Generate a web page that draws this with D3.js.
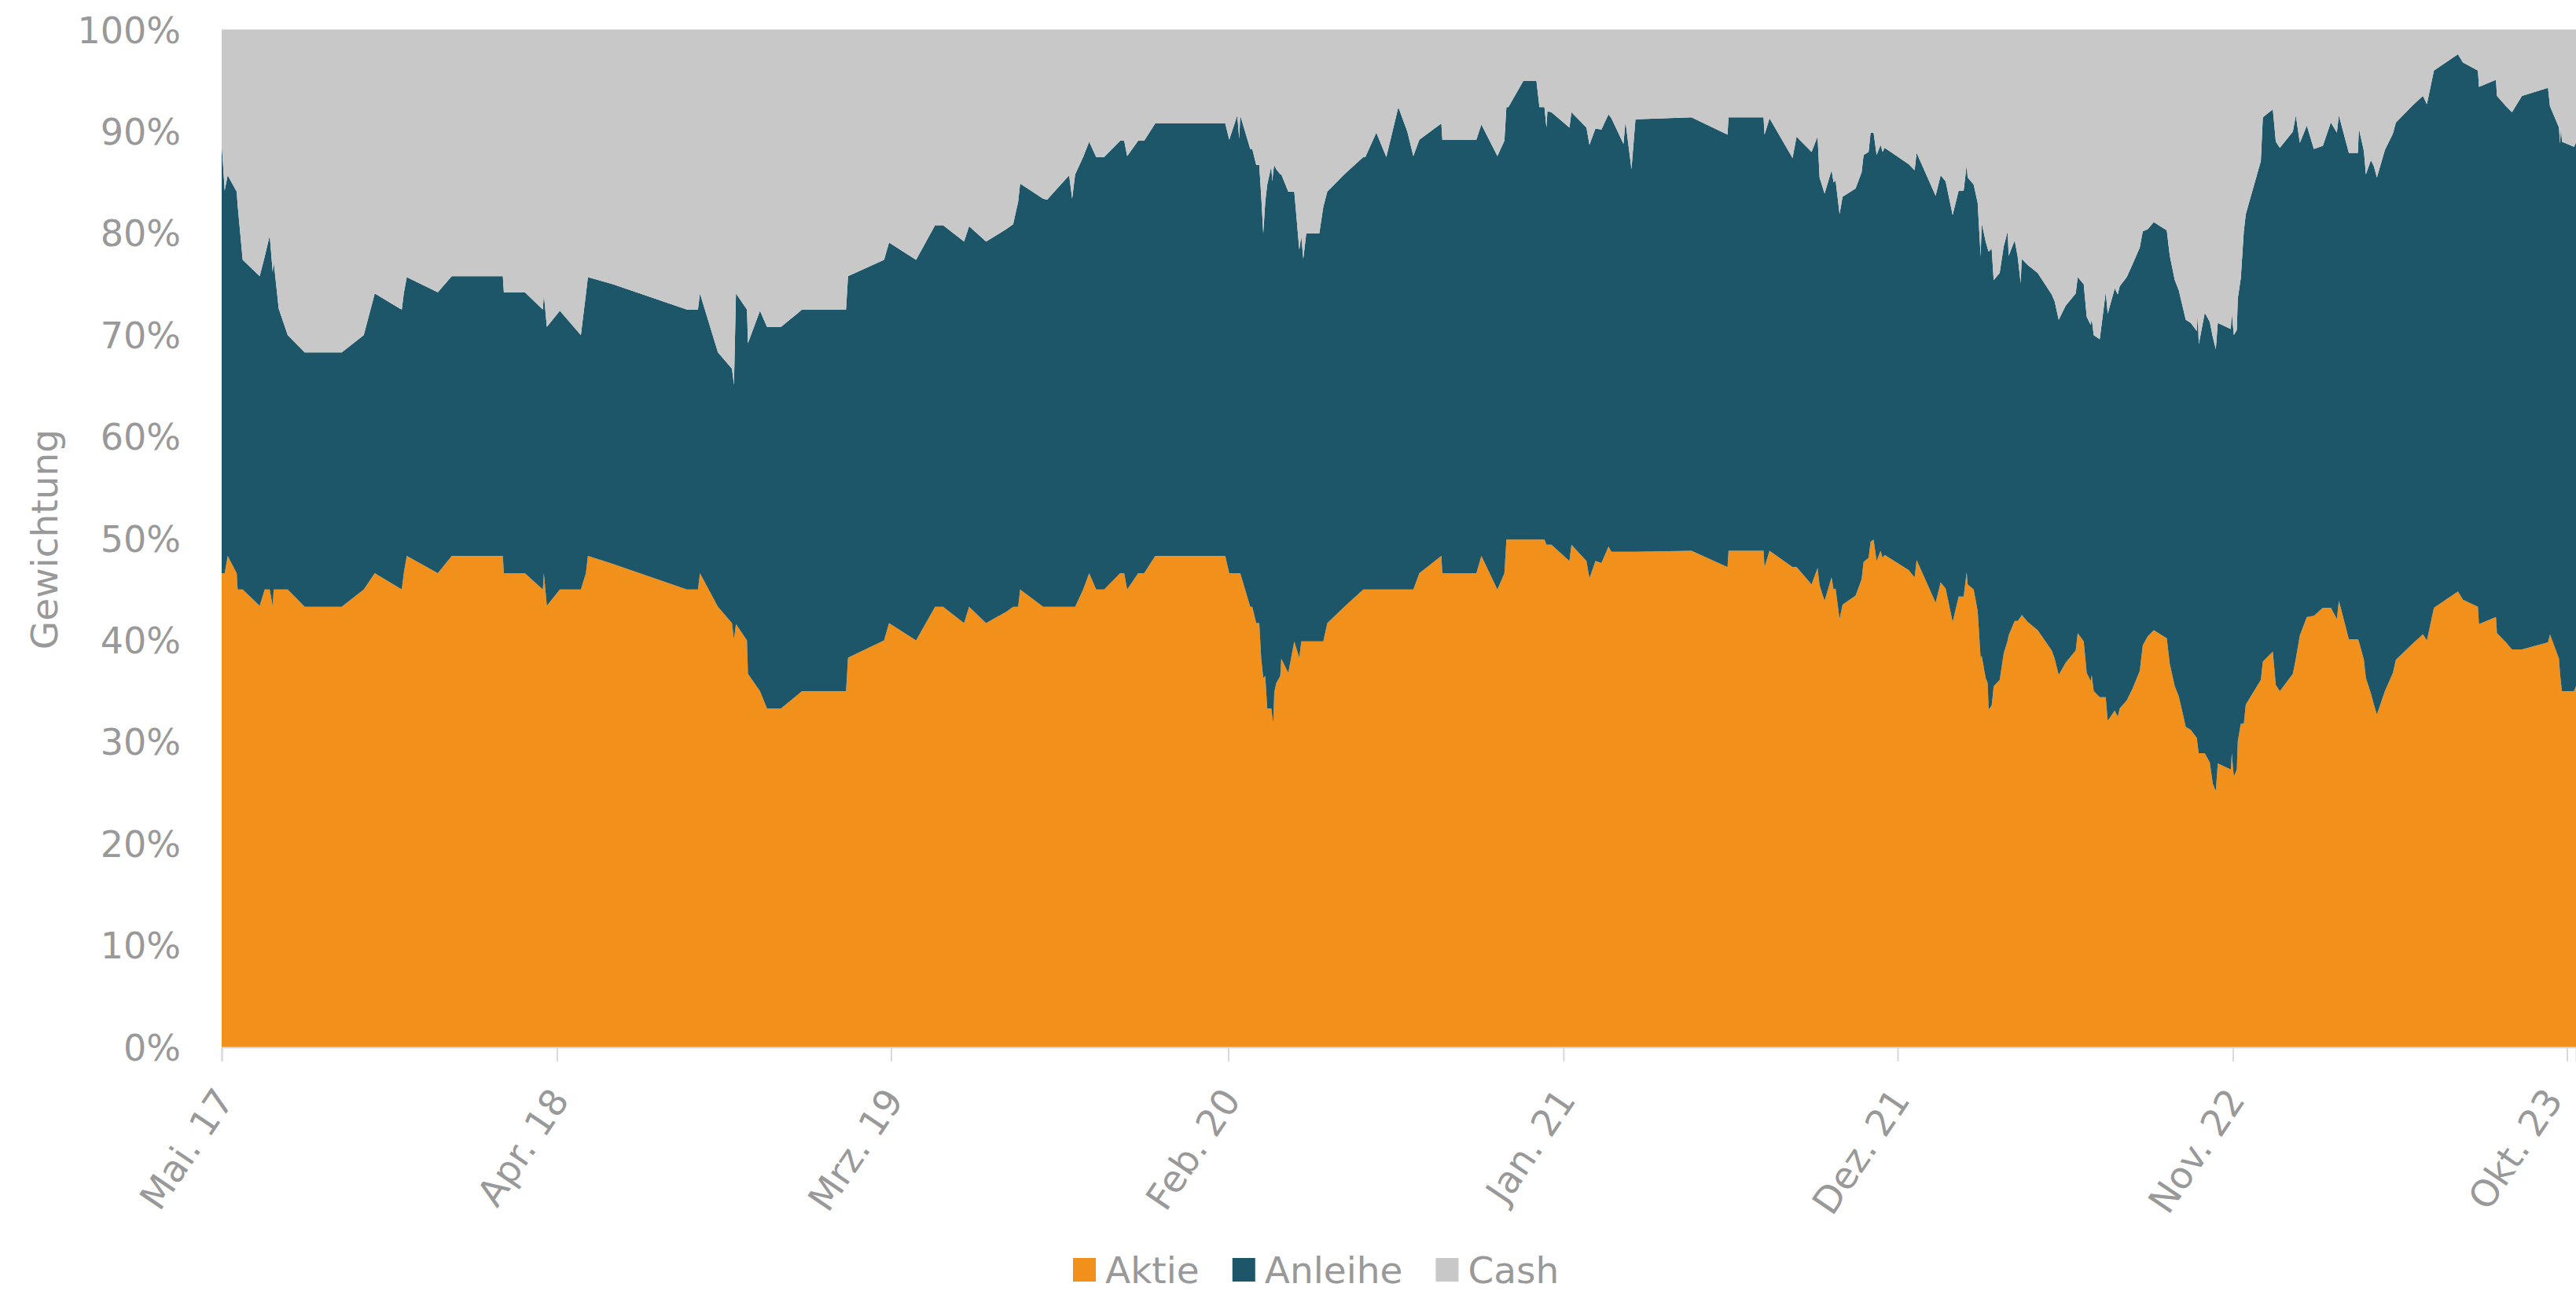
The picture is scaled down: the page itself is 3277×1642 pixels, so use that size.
<!DOCTYPE html>
<html>
<head>
<meta charset="utf-8">
<script src="https://cdn.jsdelivr.net/npm/d3@7"></script>
<style>
  html, body { margin: 0; padding: 0; background: #fff; }
  svg { display: block; }
</style>
</head>
<body>
<div id="chart"></div>
<script>
// allocation per date, in percent
const dates = [
  "2017-05-01","2017-05-04","2017-05-07","2017-05-16","2017-05-17","2017-05-22","2017-06-08","2017-06-13","2017-06-18","2017-06-21","2017-06-22","2017-06-27","2017-07-06","2017-07-23","2017-08-29","2017-09-20","2017-10-01","2017-10-28","2017-10-30","2017-11-02","2017-12-03","2017-12-17","2018-02-06","2018-02-07","2018-02-28","2018-03-18","2018-03-19","2018-03-22","2018-04-04","2018-04-25","2018-04-30","2018-05-02",
  "2018-05-27","2018-08-09","2018-08-20","2018-08-22","2018-09-09","2018-09-23","2018-09-25","2018-09-27","2018-10-08","2018-10-09","2018-10-21","2018-10-28","2018-11-11","2018-12-02","2019-01-15","2019-01-17","2019-02-22","2019-02-27","2019-03-26","2019-04-14","2019-04-22","2019-05-13","2019-05-18","2019-06-04",
  "2019-06-24","2019-07-01","2019-07-06","2019-07-08","2019-07-31","2019-08-04","2019-08-26","2019-08-29","2019-09-01","2019-09-09","2019-09-15","2019-09-22","2019-09-30","2019-10-16","2019-10-20","2019-10-23","2019-11-03","2019-11-09","2019-11-20","2020-01-29","2020-02-02","2020-02-10","2020-02-12","2020-02-13","2020-02-23","2020-02-25","2020-02-29","2020-03-03","2020-03-05","2020-03-07","2020-03-09","2020-03-11","2020-03-15","2020-03-16","2020-03-17","2020-03-18","2020-03-20","2020-03-24","2020-03-25","2020-04-01","2020-04-07","2020-04-12","2020-04-14","2020-04-16","2020-04-19","2020-05-02","2020-05-06","2020-05-10","2020-05-27","2020-06-15","2020-06-17","2020-06-28","2020-07-08","2020-07-20",
  "2020-07-29","2020-08-04","2020-08-10","2020-09-01","2020-09-02","2020-10-06","2020-10-11","2020-10-27","2020-11-03","2020-11-05","2020-11-07","2020-11-22","2020-12-05","2020-12-08","2020-12-13","2020-12-15","2020-12-16","2020-12-20","2021-01-07","2021-01-09","2021-01-24","2021-01-27","2021-02-02","2021-02-08","2021-02-15","2021-02-18","2021-03-02","2021-03-04","2021-03-10","2021-03-14","2021-05-09","2021-06-14","2021-06-15","2021-07-20","2021-07-21","2021-07-26",
  "2021-08-18","2021-08-22","2021-09-06","2021-09-12","2021-09-14","2021-09-19","2021-09-26","2021-09-28","2021-09-30","2021-10-04","2021-10-07","2021-10-20","2021-10-26","2021-10-28","2021-11-02","2021-11-04","2021-11-07","2021-11-10","2021-11-14","2021-11-16","2021-11-18","2021-12-12","2021-12-18","2021-12-20","2022-01-08","2022-01-13","2022-01-18","2022-01-25","2022-01-31","2022-02-05","2022-02-08","2022-02-09","2022-02-15","2022-02-19","2022-02-22","2022-02-23","2022-02-27","2022-03-01","2022-03-02","2022-03-05","2022-03-07","2022-03-13","2022-03-17","2022-03-21","2022-03-22","2022-03-28","2022-03-31","2022-04-03","2022-04-04","2022-04-10","2022-04-20","2022-05-04","2022-05-07","2022-05-11","2022-05-18","2022-05-28","2022-05-30","2022-06-05","2022-06-08","2022-06-12","2022-06-13","2022-06-15","2022-06-21","2022-06-27","2022-06-29","2022-07-06","2022-07-09","2022-07-11","2022-07-18","2022-07-24","2022-07-31","2022-08-03","2022-08-08","2022-08-14","2022-08-27","2022-08-30","2022-09-04","2022-09-08",
  "2022-09-15","2022-09-20","2022-09-26","2022-09-27","2022-09-28","2022-10-04","2022-10-09","2022-10-12","2022-10-15","2022-10-17","2022-10-30","2022-10-31","2022-11-02","2022-11-05","2022-11-06","2022-11-09","2022-11-12","2022-11-14","2022-11-29","2022-12-01","2022-12-11","2022-12-14","2022-12-18","2022-12-31","2023-01-03","2023-01-07","2023-01-14","2023-01-21","2023-01-30","2023-02-07","2023-02-13","2023-02-15","2023-02-25","2023-03-06","2023-03-07","2023-03-12","2023-03-14","2023-03-19","2023-03-22","2023-03-25","2023-04-02","2023-04-10","2023-04-13","2023-04-30","2023-05-10","2023-05-14","2023-05-21","2023-06-14","2023-06-19","2023-07-04","2023-07-05","2023-07-22","2023-07-23","2023-08-01","2023-08-07","2023-08-17","2023-09-12","2023-09-14","2023-09-23","2023-09-24","2023-09-25","2023-09-26","2023-10-08","2023-10-10"
];

const aktie = [
  46.6,46.6,48.3,46.6,45.0,45.0,43.4,45.0,45.0,43.4,45.0,45.0,45.0,43.3,43.3,45.0,46.6,45.0,46.6,48.3,46.6,48.3,48.3,46.6,46.6,45.0,46.6,43.4,45.0,45.0,46.6,48.3,
  47.5,45.0,45.0,46.6,43.3,41.7,40.1,41.6,40.0,36.7,35.0,33.3,33.3,35.0,35.0,38.3,40.0,41.7,40.0,43.3,43.3,41.7,43.3,41.7,
  42.8,43.3,43.3,45.0,43.3,43.3,43.3,43.3,43.3,45.0,46.6,45.0,45.0,46.6,46.6,45.0,46.6,46.6,48.3,48.3,46.6,46.6,46.6,46.6,43.3,43.3,41.7,41.7,38.2,36.3,36.5,33.3,33.3,32.6,31.8,34.9,35.8,36.5,38.2,36.8,39.9,38.3,39.9,39.9,39.9,39.9,39.9,41.7,43.3,45.0,45.0,45.0,45.0,45.0,
  45.0,45.0,46.6,48.3,46.6,46.6,48.3,45.0,46.6,49.9,49.9,49.9,49.9,49.9,49.9,49.4,49.4,49.4,47.8,49.4,47.8,46.1,47.8,47.6,49.2,48.7,48.7,48.7,48.7,48.7,48.8,47.2,48.8,48.8,47.2,48.8,
  47.2,47.2,45.5,47.1,45.4,43.9,46.2,45.0,45.1,42.1,43.5,44.4,46.0,47.7,48.1,49.7,49.9,47.8,48.8,48.1,48.4,46.9,46.2,47.9,43.7,45.7,45.1,41.8,44.3,44.3,46.7,45.5,45.0,42.9,38.2,38.5,36.3,35.8,33.2,33.6,35.5,36.1,38.7,40.0,40.5,41.9,41.9,42.3,42.5,41.8,41.0,39.0,38.2,36.6,37.8,39.0,40.7,39.9,36.8,36.0,36.6,35.0,34.4,34.4,32.1,33.1,32.5,33.3,34.1,35.3,37.0,39.5,40.4,41.0,40.2,37.7,35.5,34.5,
  31.5,31.2,30.4,29.6,28.9,28.9,28.0,25.9,25.2,27.9,27.3,28.9,26.6,27.3,30.1,31.8,31.8,33.7,36.1,37.9,38.9,35.6,35.0,36.7,38.2,40.5,42.3,42.4,43.2,43.2,42.1,43.9,40.1,40.1,39.9,38.1,36.3,34.8,33.7,32.7,35.0,36.8,38.1,39.7,40.6,40.0,43.2,44.8,44.0,43.3,41.6,42.3,40.7,39.8,39.1,39.1,39.8,40.6,38.2,36.8,35.8,35.0,35.0,35.5
];

const anleihe = [
  42.2,37.6,37.4,37.5,37.7,32.4,32.4,32.7,34.8,32.8,32.2,27.6,25.0,25.0,25.0,25.0,27.5,27.5,27.5,27.4,27.6,27.5,27.5,27.6,27.6,27.5,27.4,27.4,27.4,25.0,27.4,27.4,
  27.5,27.5,27.5,27.5,25.0,25.0,25.0,32.5,32.5,32.5,37.4,37.5,37.5,37.5,37.5,37.5,37.4,37.4,37.4,37.5,37.5,37.5,37.4,37.5,
  37.6,37.6,39.8,39.9,40.1,40.0,42.4,40.1,42.5,42.5,42.4,42.5,42.5,42.5,42.5,42.6,42.5,42.5,42.5,42.5,42.6,45.0,42.7,45.0,45.0,45.0,45.0,45.0,45.4,43.7,46.6,51.5,53.3,52.5,54.3,51.8,50.5,49.3,47.6,47.3,44.2,40.1,39.8,37.6,40.1,40.1,42.7,42.4,42.5,42.5,42.5,44.9,42.5,47.4,
  45.0,42.6,42.6,42.5,42.6,42.6,42.4,42.6,42.5,42.5,42.5,45.1,45.1,42.5,42.5,41.0,42.6,42.5,42.6,42.5,42.6,42.6,42.5,42.6,42.5,42.6,40.1,42.3,37.6,42.5,42.6,42.5,42.6,42.6,42.5,42.5,
  40.2,42.3,42.5,42.4,40.1,40.0,40.0,40.0,40.1,39.8,40.1,40.0,40.0,40.0,39.9,40.2,40.0,39.9,39.9,39.9,40.0,39.9,40.0,40.0,40.0,40.0,40.0,40.0,39.9,39.9,40.0,40.0,39.8,40.1,39.5,42.5,42.9,42.7,45.0,44.9,39.9,40.0,40.0,40.2,37.3,37.4,35.8,32.8,35.0,35.1,35.1,35.0,35.1,34.9,35.1,35.1,35.0,35.1,35.0,35.0,35.0,35.0,35.2,39.8,40.0,41.5,41.5,41.5,41.6,41.7,41.6,40.7,40.0,40.1,40.1,40.1,39.9,39.9,
  40.0,40.0,40.0,42.3,40.2,43.3,43.3,43.9,43.4,43.3,43.3,43.3,43.4,43.2,43.5,43.8,48.4,48.2,51.0,53.5,53.3,53.4,53.4,53.3,53.4,48.4,48.3,45.9,45.4,47.7,47.8,47.7,47.8,47.8,50.4,50.0,49.5,52.4,52.9,52.8,53.2,53.0,52.8,52.9,52.9,52.7,52.8,52.8,52.8,52.7,52.8,52.8,52.8,52.7,52.8,54.4,54.5,51.9,52.2,52.0,54.6,54.0,53.5,53.4
];

const cash = [
  11.2,15.8,14.3,15.9,17.3,22.6,24.2,22.3,20.2,23.8,22.8,27.4,30.0,31.7,31.7,30.0,25.9,27.5,25.9,24.3,25.8,24.2,24.2,25.8,25.8,27.5,26.0,29.2,27.6,30.0,26.0,24.3,
  25.0,27.5,27.5,25.9,31.7,33.3,34.9,25.9,27.5,30.8,27.6,29.2,29.2,27.5,27.5,24.2,22.6,20.9,22.6,19.2,19.2,20.8,19.3,20.8,
  19.6,19.1,16.9,15.1,16.6,16.7,14.3,16.6,14.2,12.5,11.0,12.5,12.5,10.9,10.9,12.4,10.9,10.9,9.2,9.2,10.8,8.4,10.7,8.4,11.7,11.7,13.3,13.3,16.4,20.0,16.9,15.2,13.4,14.9,13.9,13.3,13.7,14.2,14.2,15.9,15.9,21.6,20.3,22.5,20.0,20.0,17.4,15.9,14.2,12.5,12.5,10.1,12.5,7.6,
  10.0,12.4,10.8,9.2,10.8,10.8,9.3,12.4,10.9,7.6,7.6,5.0,5.0,7.6,7.6,9.6,8.0,8.1,9.6,8.1,9.6,11.3,9.7,9.8,8.3,8.7,11.2,9.0,13.7,8.8,8.6,10.3,8.6,8.6,10.3,8.7,
  12.6,10.5,12.0,10.5,14.5,16.1,13.8,15.0,14.8,18.1,16.4,15.6,14.0,12.3,12.0,10.1,10.1,12.3,11.3,12.0,11.6,13.2,13.8,12.1,16.3,14.3,14.9,18.2,15.8,15.8,13.3,14.5,15.2,17.0,22.3,19.0,20.8,21.5,21.8,21.5,24.6,23.9,21.3,19.8,22.2,20.7,22.3,24.9,22.5,23.1,23.9,26.0,26.7,28.5,27.1,25.9,24.3,25.0,28.2,29.0,28.4,30.0,30.4,25.8,27.9,25.4,26.0,25.2,24.3,23.0,21.4,19.8,19.6,18.9,19.7,22.2,24.6,25.6,
  28.5,28.8,29.6,28.1,30.9,27.8,28.7,30.2,31.4,28.8,29.4,27.8,30.0,29.5,26.4,24.4,19.8,18.1,12.9,8.6,7.8,11.0,11.6,10.0,8.4,11.1,9.4,11.7,11.4,9.1,10.1,8.4,12.1,12.1,9.7,11.9,14.2,12.8,13.4,14.5,11.8,10.2,9.1,7.4,6.5,7.3,4.0,2.4,3.2,4.0,5.6,4.9,6.5,7.5,8.1,6.5,5.7,7.5,9.6,11.2,9.6,11.0,11.5,11.1
];

const keys = ["Aktie", "Anleihe", "Cash"];
const colors = ["#f1911b", "#1c5668", "#c8c8c8"];

const tickDates = ["2017-05-01", "2018-04-01", "2019-03-01", "2020-02-01", "2021-01-01", "2021-12-01", "2022-11-01", "2023-10-01"];
const tickLabels = ["Mai. 17", "Apr. 18", "Mrz. 19", "Feb. 20", "Jan. 21", "Dez. 21", "Nov. 22", "Okt. 23"];
const yTicks = [0, 0.1, 0.2, 0.3, 0.4, 0.5, 0.6, 0.7, 0.8, 0.9, 1];

const width = 3277;
const height = 1642;
const margin = { left: 282, right: 0, top: 38, bottom: 310 };
const textColor = "#999999";
const font = "'DejaVu Sans', Verdana, sans-serif";

const parse = d3.utcParse("%Y-%m-%d");

// one row per date, stacked and normalised to 100%
const rows = dates.map((d, i) => ({
  date: parse(d),
  Aktie: aktie[i],
  Anleihe: anleihe[i],
  Cash: cash[i]
}));

const series = d3.stack()
  .keys(keys)
  .offset(d3.stackOffsetExpand)(rows);

const svg = d3.select("#chart")
  .append("svg")
  .attr("width", width)
  .attr("height", height)
  .style("font-family", font);

const x = d3.scaleUtc()
  .domain([parse("2017-05-01"), parse("2023-10-10")])
  .range([margin.left, width - margin.right]);

const y = d3.scaleLinear()
  .domain([0, 1])
  .range([height - margin.bottom, margin.top]);

// light gridline at the top edge of the plot
svg.append("line")
  .attr("x1", margin.left)
  .attr("x2", width - margin.right)
  .attr("y1", y(1))
  .attr("y2", y(1))
  .attr("stroke", "#e4e4e4")
  .attr("stroke-width", 2);

const area = d3.area()
  .x((d) => x(d.data.date))
  .y0((d) => y(d[0]))
  .y1((d) => y(d[1]));

svg.append("g")
  .selectAll("path")
  .data(series)
  .join("path")
    .attr("fill", (d, i) => colors[i])
    .attr("d", area);

// y axis, labels only
const yAxis = svg.append("g")
  .attr("transform", `translate(${margin.left},0)`)
  .call(
    d3.axisLeft(y)
      .tickValues(yTicks)
      .tickFormat((d) => Math.round(d * 100) + "%")
      .tickSize(0)
      .tickPadding(52)
  );
yAxis.select(".domain").remove();
yAxis.selectAll("text")
  .attr("fill", textColor)
  .attr("dy", null)
  .attr("dominant-baseline", "central")
  .style("font-size", "46px")
  .style("font-family", font);

// x axis with rotated month labels
const xAxis = svg.append("g")
  .attr("transform", `translate(0,${height - margin.bottom})`)
  .call(
    d3.axisBottom(x)
      .tickValues(tickDates.map(parse))
      .tickFormat((d, i) => tickLabels[i])
      .tickSize(18)
  );
xAxis.select(".domain")
  .attr("stroke", "#d9d9d9")
  .attr("stroke-width", 2);
xAxis.selectAll(".tick line")
  .attr("stroke", "#d9d9d9")
  .attr("stroke-width", 2);
xAxis.selectAll("text")
  .attr("fill", textColor)
  .attr("x", 0)
  .attr("y", 0)
  .attr("dy", null)
  .attr("text-anchor", "end")
  .attr("dominant-baseline", "central")
  // last label sits at the right edge, pull it in so it stays whole
  .attr("transform", (d, i) =>
    i === tickLabels.length - 1 ? "translate(-18,58) rotate(-56)" : "translate(3,58) rotate(-56)")
  .style("font-size", "47px")
  .style("font-family", font);

// y axis title
svg.append("text")
  .attr("transform", "translate(56,686) rotate(-90)")
  .attr("text-anchor", "middle")
  .attr("dominant-baseline", "central")
  .attr("fill", textColor)
  .style("font-size", "47px")
  .text("Gewichtung");

// legend
const legend = svg.append("g")
  .attr("transform", "translate(1365,1632)");
let lx = 0;
keys.forEach((k, i) => {
  const g = legend.append("g").attr("transform", `translate(${lx},0)`);
  g.append("rect")
    .attr("x", 0)
    .attr("y", -32)
    .attr("width", 29)
    .attr("height", 30)
    .attr("fill", colors[i]);
  const t = g.append("text")
    .attr("x", 41)
    .attr("y", 0)
    .attr("fill", textColor)
    .style("font-size", "47px")
    .text(k);
  lx += 41 + t.node().getComputedTextLength() + 42;
});
</script>
</body>
</html>
